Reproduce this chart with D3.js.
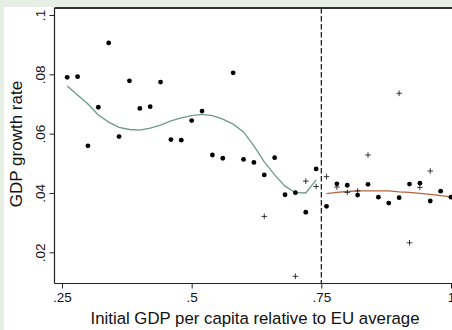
<!DOCTYPE html>
<html>
<head>
<meta charset="utf-8">
<script src="https://cdn.jsdelivr.net/npm/d3@7"></script>
<style>
  html, body { margin: 0; padding: 0; background: #e6efe4; }
  svg { display: block; }
  text { font-family: "Liberation Sans", Arial, sans-serif; fill: #111; }
</style>
</head>
<body>
<svg id="chart" width="452" height="330"></svg>
<script>
// initial GDP per capita (relative to EU average)
const xValues = [0.26, 0.28, 0.30, 0.32, 0.34, 0.36, 0.38, 0.40, 0.42, 0.44, 0.46, 0.48, 0.50,
  0.52, 0.54, 0.56, 0.58, 0.60, 0.62, 0.64, 0.66, 0.68, 0.70, 0.72, 0.74, 0.76, 0.78, 0.80,
  0.82, 0.84, 0.86, 0.88, 0.90, 0.92, 0.94, 0.96, 0.98, 1.00];
// growth rate (filled circles)
const growth = [0.0790, 0.0792, 0.0559, 0.0689, 0.0906, 0.0590, 0.0778, 0.0685, 0.0691, 0.0774,
  0.0580, 0.0578, 0.0644, 0.0676, 0.0528, 0.0517, 0.0805, 0.0513, 0.0503, 0.0461, 0.0519,
  0.0394, 0.0401, 0.0335, 0.0481, 0.0355, 0.0431, 0.0426, 0.0393, 0.0429, 0.0386, 0.0366,
  0.0384, 0.0430, 0.0433, 0.0373, 0.0406, 0.0386];
// second observation (plus markers)
const plusX = [0.64, 0.70, 0.72, 0.74, 0.76, 0.78, 0.80, 0.82, 0.84, 0.90, 0.92, 0.94, 0.96];
const plusY = [0.0321, 0.0119, 0.0440, 0.0422, 0.0455, 0.0420, 0.0402, 0.0407, 0.0528, 0.0736,
  0.0232, 0.0419, 0.0474];
// smoothed fit below .75
const fitLowX = [0.26, 0.28, 0.30, 0.32, 0.34, 0.36, 0.38, 0.40, 0.42, 0.44, 0.46, 0.48, 0.50,
  0.52, 0.54, 0.56, 0.58, 0.60, 0.62, 0.64, 0.66, 0.68, 0.70, 0.72, 0.74];
const fitLowY = [0.0761, 0.0730, 0.0700, 0.0663, 0.0639, 0.0621, 0.0614, 0.0612, 0.0619, 0.0629,
  0.0643, 0.0653, 0.0661, 0.0665, 0.0661, 0.0649, 0.0632, 0.0606, 0.0559, 0.0505, 0.0461,
  0.0423, 0.0401, 0.0400, 0.0444];
// smoothed fit above .75
const fitHighX = [0.76, 0.78, 0.80, 0.82, 0.84, 0.86, 0.88, 0.90, 0.92, 0.94, 0.96, 0.98, 1.00];
const fitHighY = [0.0398, 0.0402, 0.0405, 0.0407, 0.0407, 0.0407, 0.0407, 0.0404, 0.0402, 0.0399,
  0.0395, 0.0391, 0.0387];
const xTicks = [0.25, 0.5, 0.75, 1];
const xTickLabels = [".25", ".5", ".75", "1"];
const yTicks = [0.02, 0.04, 0.06, 0.08, 0.1];
const yTickLabels = [".02", ".04", ".06", ".08", ".1"];
const threshold = 0.75;

const svg = d3.select("#chart");
const plot = { left: 54.5, top: 8, right: 452, bottom: 283.5 };

svg.append("rect")
  .attr("x", 4).attr("y", 7)
  .attr("width", 448).attr("height", 323)
  .attr("fill", "#fff");

const x = d3.scaleLinear().domain([0.25, 1]).range([62, 451]);
const y = d3.scaleLinear().domain([0.02, 0.1]).range([252.3, 15]);

// frame
svg.append("line")
  .attr("x1", plot.left).attr("x2", plot.right)
  .attr("y1", plot.top).attr("y2", plot.top)
  .attr("stroke", "#333").attr("stroke-width", 1.8);

// axes
const xAxis = svg.append("g")
  .attr("transform", `translate(0,${plot.bottom})`)
  .call(d3.axisBottom(x).tickValues(xTicks).tickSize(5).tickPadding(4)
    .tickFormat((d, i) => xTickLabels[i]).tickSizeOuter(0));
xAxis.select(".domain").remove();
xAxis.append("line")
  .attr("x1", plot.left).attr("x2", plot.right)
  .attr("stroke", "#222").attr("stroke-width", 1.2);
xAxis.selectAll(".tick line").attr("stroke", "#222");
xAxis.selectAll(".tick text")
  .attr("font-size", 13.5).attr("fill", "#111")
  .attr("font-family", "Liberation Sans, Arial, sans-serif");

const yAxis = svg.append("g")
  .attr("transform", `translate(${plot.left},0)`)
  .call(d3.axisLeft(y).tickValues(yTicks).tickSize(5)
    .tickFormat((d, i) => yTickLabels[i]).tickSizeOuter(0));
yAxis.select(".domain").remove();
yAxis.append("line")
  .attr("y1", plot.top).attr("y2", plot.bottom)
  .attr("stroke", "#222").attr("stroke-width", 1.2);
yAxis.selectAll(".tick line").attr("stroke", "#222");
yAxis.selectAll(".tick text")
  .attr("font-size", 13.5).attr("fill", "#111")
  .attr("font-family", "Liberation Sans, Arial, sans-serif")
  .attr("x", null).attr("dy", null)
  .attr("text-anchor", "middle")
  .attr("transform", "translate(-9.5,0) rotate(-90)");

// titles
svg.append("text")
  .attr("x", 255).attr("y", 324)
  .attr("text-anchor", "middle")
  .attr("font-size", 16.8)
  .text("Initial GDP per capita relative to EU average");
svg.append("text")
  .attr("transform", "translate(21.5,144) rotate(-90)")
  .attr("text-anchor", "middle")
  .attr("font-size", 17)
  .text("GDP growth rate");

// threshold line
svg.append("line")
  .attr("x1", x(threshold)).attr("x2", x(threshold))
  .attr("y1", plot.top).attr("y2", plot.bottom)
  .attr("stroke", "#111").attr("stroke-width", 1.2)
  .attr("stroke-dasharray", "5.5,2.5");

// fitted lines
const line = d3.line().x(d => x(d[0])).y(d => y(d[1]));
svg.append("path")
  .datum(fitLowX.map((v, i) => [v, fitLowY[i]]))
  .attr("d", line)
  .attr("fill", "none").attr("stroke", "#6e9990").attr("stroke-width", 1.3);
svg.append("path")
  .datum(fitHighX.map((v, i) => [v, fitHighY[i]]))
  .attr("d", line)
  .attr("fill", "none").attr("stroke", "#b5643f").attr("stroke-width", 1.3);

// plus markers
const plusSize = 2.8;
svg.append("g").selectAll("path")
  .data(plusX.map((v, i) => [v, plusY[i]]))
  .join("path")
  .attr("d", d => {
    const px = x(d[0]), py = y(d[1]);
    return `M${px - plusSize},${py}H${px + plusSize}M${px},${py - plusSize}V${py + plusSize}`;
  })
  .attr("stroke", "#222").attr("stroke-width", 0.9).attr("fill", "none");

// circles
svg.append("g").selectAll("circle")
  .data(xValues.map((v, i) => [v, growth[i]]))
  .join("circle")
  .attr("cx", d => x(d[0]))
  .attr("cy", d => y(d[1]))
  .attr("r", 2.4)
  .attr("fill", "#000");
</script>
</body>
</html>
